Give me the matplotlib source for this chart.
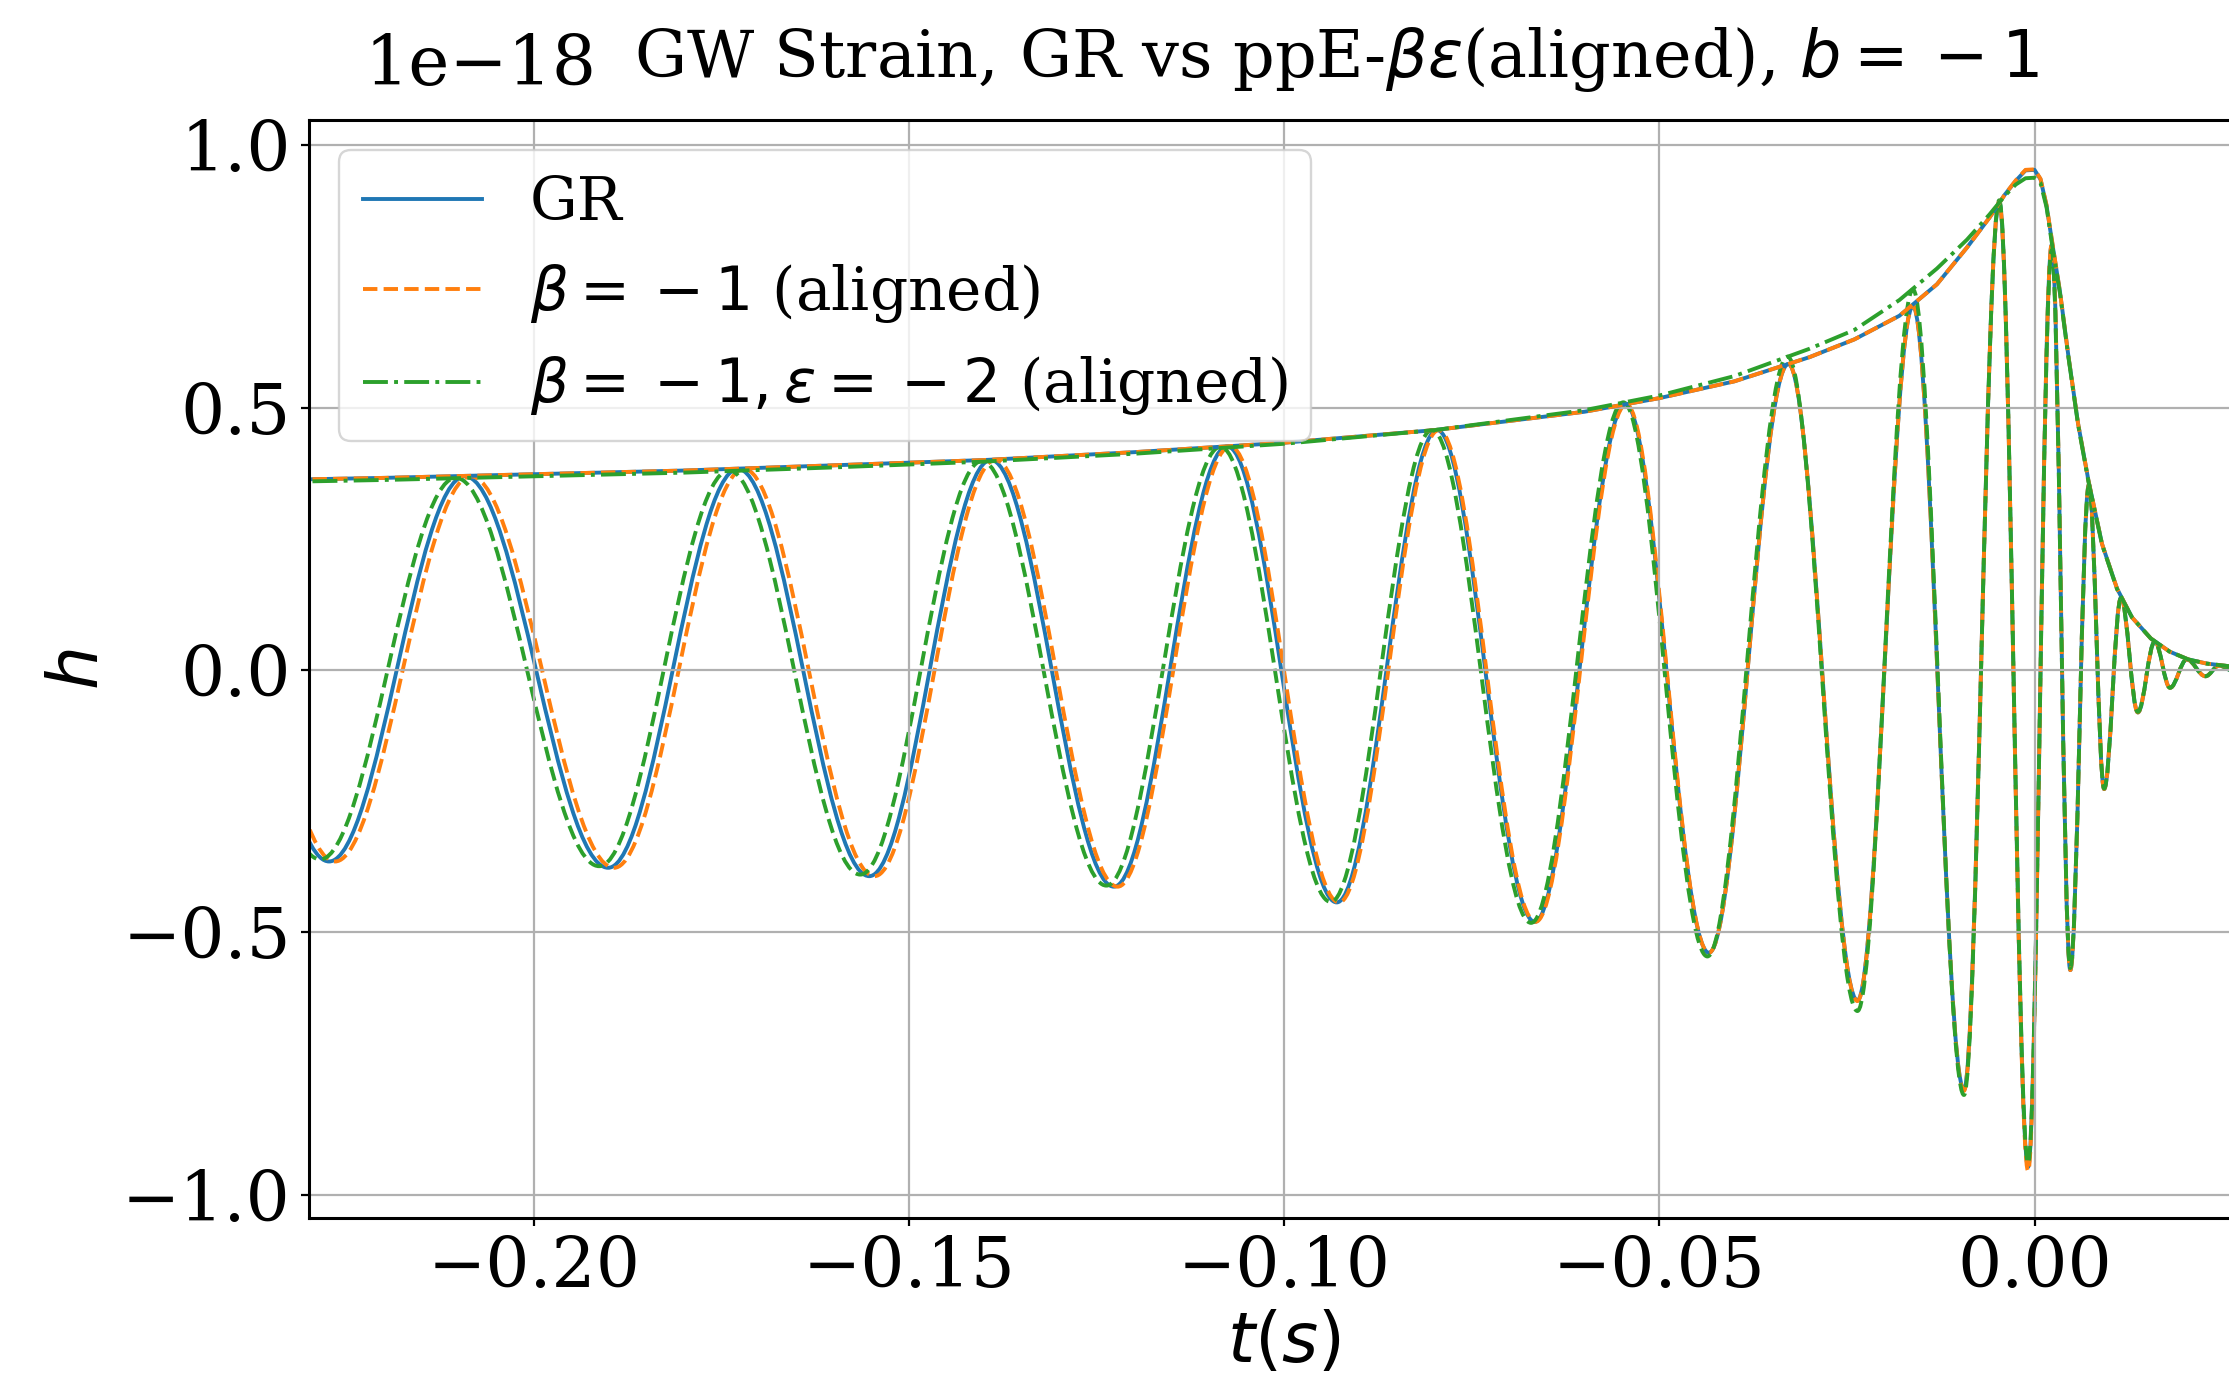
import numpy as np
import matplotlib
matplotlib.use("Agg")
import matplotlib.pyplot as plt
from matplotlib.path import Path
from matplotlib.patches import PathPatch

# strain is in units of 1e-18
SCALE = 1e-18

# peaks / troughs of h(t)
t_gr = [-0.2454, -0.2273, -0.2092, -0.1901, -0.1728, -0.1553, -0.1391, -0.1227, -0.1076, -0.0930,
        -0.0796, -0.0666, -0.0545, -0.0434, -0.0328, -0.0236, -0.0162, -0.0094, -0.0047, -0.00085,
        0.0023, 0.00477, 0.00725, 0.00928, 0.01153, 0.01377, 0.01603, 0.01806, 0.0203, 0.02278,
        0.02459, 0.0270, 0.0293]
h_gr = [0.360, -0.365, 0.369, -0.377, 0.383, -0.393, 0.400, -0.413, 0.426, -0.443,
        0.457, -0.480, 0.506, -0.539, 0.583, -0.630, 0.693, -0.800, 0.892, -0.947,
        0.810, -0.572, 0.353, -0.227, 0.138, -0.081, 0.054, -0.034, 0.020, -0.012,
        0.008, -0.005, 0.003]

t_b = [-0.2446, -0.2265, -0.2084, -0.1893, -0.1720, -0.1546, -0.1385, -0.1222, -0.1072, -0.0927,
       -0.0794, -0.0665, -0.0544, -0.0434, -0.0328, -0.0236, -0.0162, -0.0094, -0.0047, -0.00085,
       0.0023, 0.00477, 0.00725, 0.00928, 0.01153, 0.01377, 0.01603, 0.01806, 0.0203, 0.02278,
       0.02459, 0.0270, 0.0293]
h_b = [0.360, -0.365, 0.369, -0.377, 0.383, -0.393, 0.400, -0.413, 0.426, -0.443,
       0.457, -0.480, 0.506, -0.539, 0.583, -0.631, 0.694, -0.802, 0.893, -0.955,
       0.812, -0.572, 0.353, -0.227, 0.138, -0.081, 0.054, -0.034, 0.020, -0.012,
       0.008, -0.005, 0.003]

t_be = [-0.2466, -0.2285, -0.2104, -0.1913, -0.1740, -0.1565, -0.1403, -0.1237, -0.1085, -0.0938,
        -0.0803, -0.0671, -0.0548, -0.0436, -0.0329, -0.0236, -0.0162, -0.0094, -0.0047, -0.00085,
        0.0023, 0.00477, 0.00725, 0.00928, 0.01153, 0.01377, 0.01603, 0.01806, 0.0203, 0.02278,
        0.02459, 0.0270, 0.0293]
h_be = [0.357, -0.361, 0.366, -0.374, 0.380, -0.390, 0.398, -0.411, 0.425, -0.442,
        0.457, -0.482, 0.510, -0.546, 0.597, -0.650, 0.725, -0.810, 0.895, -0.940,
        0.800, -0.568, 0.351, -0.226, 0.137, -0.080, 0.054, -0.034, 0.020, -0.012,
        0.008, -0.005, 0.003]

# amplitude |h|
t_env = [-0.235, -0.22, -0.20, -0.18, -0.16, -0.14, -0.12, -0.10, -0.08, -0.06,
         -0.05, -0.04, -0.03, -0.024, -0.018, -0.013, -0.009, -0.006, -0.004, -0.0025,
         -0.0012, 0.0, 0.0008, 0.0016, 0.0024, 0.0034, 0.0045, 0.0058, 0.0072, 0.0090,
         0.0110, 0.0130, 0.0155, 0.0180, 0.0205, 0.0230, 0.0260, 0.0300]
a_gr = [0.362, 0.366, 0.373, 0.380, 0.390, 0.400, 0.415, 0.433, 0.457, 0.492,
        0.518, 0.550, 0.596, 0.630, 0.675, 0.735, 0.805, 0.862, 0.905, 0.932,
        0.952, 0.953, 0.935, 0.885, 0.810, 0.720, 0.600, 0.470, 0.360, 0.240,
        0.155, 0.100, 0.060, 0.035, 0.020, 0.012, 0.007, 0.004]
a_b = [0.362, 0.366, 0.373, 0.380, 0.390, 0.400, 0.415, 0.433, 0.457, 0.492,
       0.518, 0.550, 0.596, 0.630, 0.675, 0.735, 0.805, 0.862, 0.905, 0.933,
       0.953, 0.954, 0.936, 0.886, 0.812, 0.720, 0.600, 0.470, 0.360, 0.240,
       0.155, 0.100, 0.060, 0.035, 0.020, 0.012, 0.007, 0.004]
a_be = [0.358, 0.362, 0.369, 0.376, 0.386, 0.397, 0.412, 0.431, 0.457, 0.495,
        0.523, 0.560, 0.612, 0.648, 0.705, 0.765, 0.820, 0.868, 0.903, 0.925,
        0.937, 0.938, 0.928, 0.882, 0.805, 0.717, 0.598, 0.468, 0.358, 0.239,
        0.154, 0.100, 0.060, 0.035, 0.020, 0.012, 0.007, 0.004]

x_ticks = [-0.20, -0.15, -0.10, -0.05, 0.00]
y_ticks = [-1.0, -0.5, 0.0, 0.5, 1.0]

C_GR = '#1f77b4'
C_B = '#ff7f0e'
C_BE = '#2ca02c'


def wave_path(ts, hs, k=0.363):
    # smooth curve through the extrema, flat tangent at each one
    verts = [(ts[0], hs[0] * SCALE)]
    codes = [Path.MOVETO]
    for i in range(1, len(ts)):
        dt = ts[i] - ts[i - 1]
        verts.append((ts[i - 1] + k * dt, hs[i - 1] * SCALE))
        verts.append((ts[i] - k * dt, hs[i] * SCALE))
        verts.append((ts[i], hs[i] * SCALE))
        codes += [Path.CURVE4] * 3
    return Path(verts, codes)


plt.rcParams['font.family'] = 'serif'

fig = plt.figure(figsize=(22.29, 13.8), dpi=100)
ax = fig.add_axes([0.13854, 0.11717, 0.87519, 0.79587])

LW = 2.8
env = np.array(t_env)

ax.add_patch(PathPatch(wave_path(t_gr, h_gr), fill=False, edgecolor=C_GR, lw=LW,
                       ls='-', joinstyle='round'))
ax.plot(env, np.array(a_gr) * SCALE, color=C_GR, lw=LW, ls='-', label='GR')
ax.add_patch(PathPatch(wave_path(t_b, h_b), fill=False, edgecolor=C_B, lw=LW,
                       ls='--', joinstyle='round'))
ax.plot(env, np.array(a_b) * SCALE, color=C_B, lw=LW, ls='--',
        label=r'$\beta = {}-1$ (aligned)')
ax.add_patch(PathPatch(wave_path(t_be, h_be), fill=False, edgecolor=C_BE, lw=LW,
                       ls='--', joinstyle='round'))
ax.plot(env, np.array(a_be) * SCALE, color=C_BE, lw=LW, ls='-.',
        label=r'$\beta = {}-1, \epsilon = {}-2$ (aligned)')

ax.set_xlim(-0.23, 0.03)
ax.set_ylim(-1.045 * SCALE, 1.048 * SCALE)
ax.set_xticks(x_ticks)
ax.set_yticks(np.array(y_ticks) * SCALE)

ax.grid(True, color='#b0b0b0', lw=1.6)
for s in ax.spines.values():
    s.set_linewidth(2.2)
ax.tick_params(axis='both', labelsize=50, length=6, width=1.6)
ax.tick_params(axis='x', pad=6)
ax.tick_params(axis='y', pad=7)

ax.set_xlabel(r'$t(s)$', fontsize=50, labelpad=6)
ax.set_ylabel(r'$h$', fontsize=50, labelpad=7)
ax.set_title(r'GW Strain, GR vs ppE-$\beta\epsilon$(aligned), $b = {}-1$', fontsize=47,
             x=0.527, pad=31)

off = ax.yaxis.get_offset_text()
off.set_fontsize(50)
off.set_x(0.0288)
ax.yaxis.OFFSETTEXTPAD = 25

leg = ax.legend(loc='upper left', fontsize=43)
leg.get_frame().set_linewidth(1.7)

fig.savefig('out.png', dpi=100)
